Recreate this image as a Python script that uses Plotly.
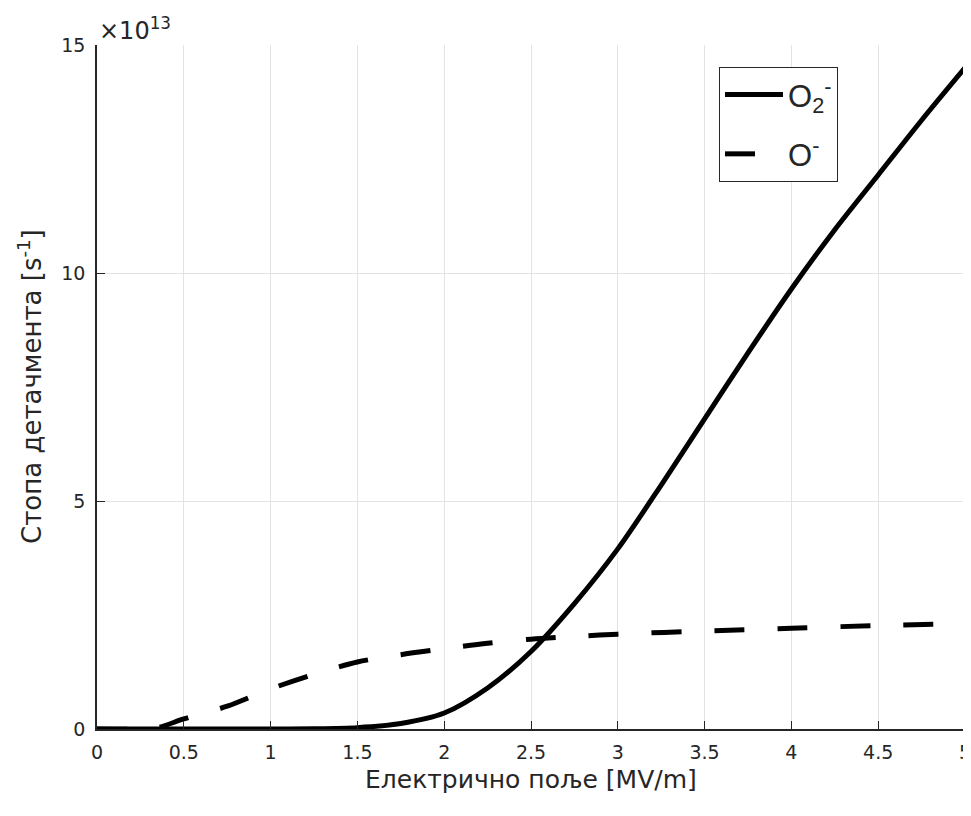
import plotly.graph_objects as go

# Electric field [MV/m]
field_o2 = [0, 0.5, 1.0, 1.25, 1.5, 1.75, 2.0, 2.25, 2.5, 2.75, 3.0, 3.25, 3.5, 3.75, 4.0, 4.25, 4.5, 4.75, 5.0]
# Detachment rate for O2- [x1e13 s^-1]
rate_o2 = [0, 0, 0, 0.005, 0.03, 0.12, 0.35, 0.9, 1.7, 2.75, 3.95, 5.35, 6.8, 8.25, 9.65, 10.95, 12.15, 13.35, 14.5]

field_o = [0, 0.25, 0.35, 0.5, 0.75, 1.0, 1.25, 1.5, 1.75, 2.0, 2.25, 2.5, 2.75, 3.0, 3.5, 4.0, 4.5, 5.0]
# Detachment rate for O- [x1e13 s^-1]
rate_o = [0, 0, 0.03, 0.22, 0.5, 0.88, 1.2, 1.47, 1.63, 1.76, 1.88, 1.97, 2.03, 2.08, 2.15, 2.21, 2.27, 2.31]

x_ticks = [0, 0.5, 1, 1.5, 2, 2.5, 3, 3.5, 4, 4.5, 5]
x_tick_text = ["0", "0.5", "1", "1.5", "2", "2.5", "3", "3.5", "4", "4.5", "5"]
y_ticks = [0, 5, 10, 15]
y_tick_text = ["0", "5", "10", "15"]

FONT = "DejaVu Sans, Liberation Sans, Arial, sans-serif"
TXT = "#262626"

fig = go.Figure()
fig.add_trace(go.Scatter(
    x=field_o2, y=rate_o2, mode="lines", name="O<sub>2</sub><sup>-</sup>", legendgroup="a",
    line=dict(color="black", width=5, shape="spline", smoothing=0.8),
))
fig.add_trace(go.Scatter(
    x=field_o, y=rate_o, mode="lines", name="O<sup>-</sup>", legendgroup="b",
    line=dict(color="black", width=5, dash="30px,33px", shape="spline", smoothing=0.8),
))

fig.update_layout(
    width=963, height=808,
    margin=dict(l=89, r=6, t=37, b=87),
    plot_bgcolor="white", paper_bgcolor="white",
    font=dict(family=FONT, color=TXT, size=18),
    showlegend=True,
    legend=dict(
        x=0.7166, y=0.968, xanchor="left", yanchor="top",
        bordercolor="#262626", borderwidth=1, bgcolor="white",
        font=dict(size=31, color=TXT, family="Liberation Sans, Arial, sans-serif"),
        itemwidth=58, tracegroupgap=16,
    ),
    xaxis=dict(
        range=[0, 5], tickvals=x_ticks, ticktext=x_tick_text,
        showgrid=True, gridcolor="#e3e3e3", gridwidth=1,
        showline=True, linecolor=TXT, linewidth=1.5,
        ticks="inside", ticklen=8, tickcolor=TXT,
        zeroline=False, mirror=False, automargin=False,
        ticklabelstandoff=5, ticklabeloverflow="allow",
        tickfont=dict(size=19, color=TXT),
    ),
    yaxis=dict(
        range=[0, 15], tickvals=y_ticks, ticktext=y_tick_text,
        showgrid=True, gridcolor="#e3e3e3", gridwidth=1,
        showline=True, linecolor=TXT, linewidth=1.5,
        ticks="inside", ticklen=8, tickcolor=TXT,
        zeroline=False, mirror=False, automargin=False,
        ticklabelstandoff=6, ticklabeloverflow="allow",
        tickfont=dict(size=19, color=TXT),
    ),
    annotations=[
        dict(
            text="×10<sup>13</sup>", xref="paper", yref="paper", x=0.0, y=1.0,
            xanchor="left", yanchor="bottom", showarrow=False,
            font=dict(size=24, color=TXT, family=FONT), yshift=-2,
        ),
        dict(
            text="Електрично поље [MV/m]", xref="paper", yref="paper", x=0.5, y=0,
            xanchor="center", yanchor="middle", showarrow=False, yshift=-50,
            font=dict(size=25, color=TXT, family=FONT),
        ),
        dict(
            text="Стопа детачмента [s<sup>-1</sup>]", xref="paper", yref="paper", x=0, y=0.5,
            xanchor="center", yanchor="middle", showarrow=False, xshift=-67, textangle=-90,
            font=dict(size=26, color=TXT, family=FONT),
        ),
    ],
)

fig.write_html("out.html")
